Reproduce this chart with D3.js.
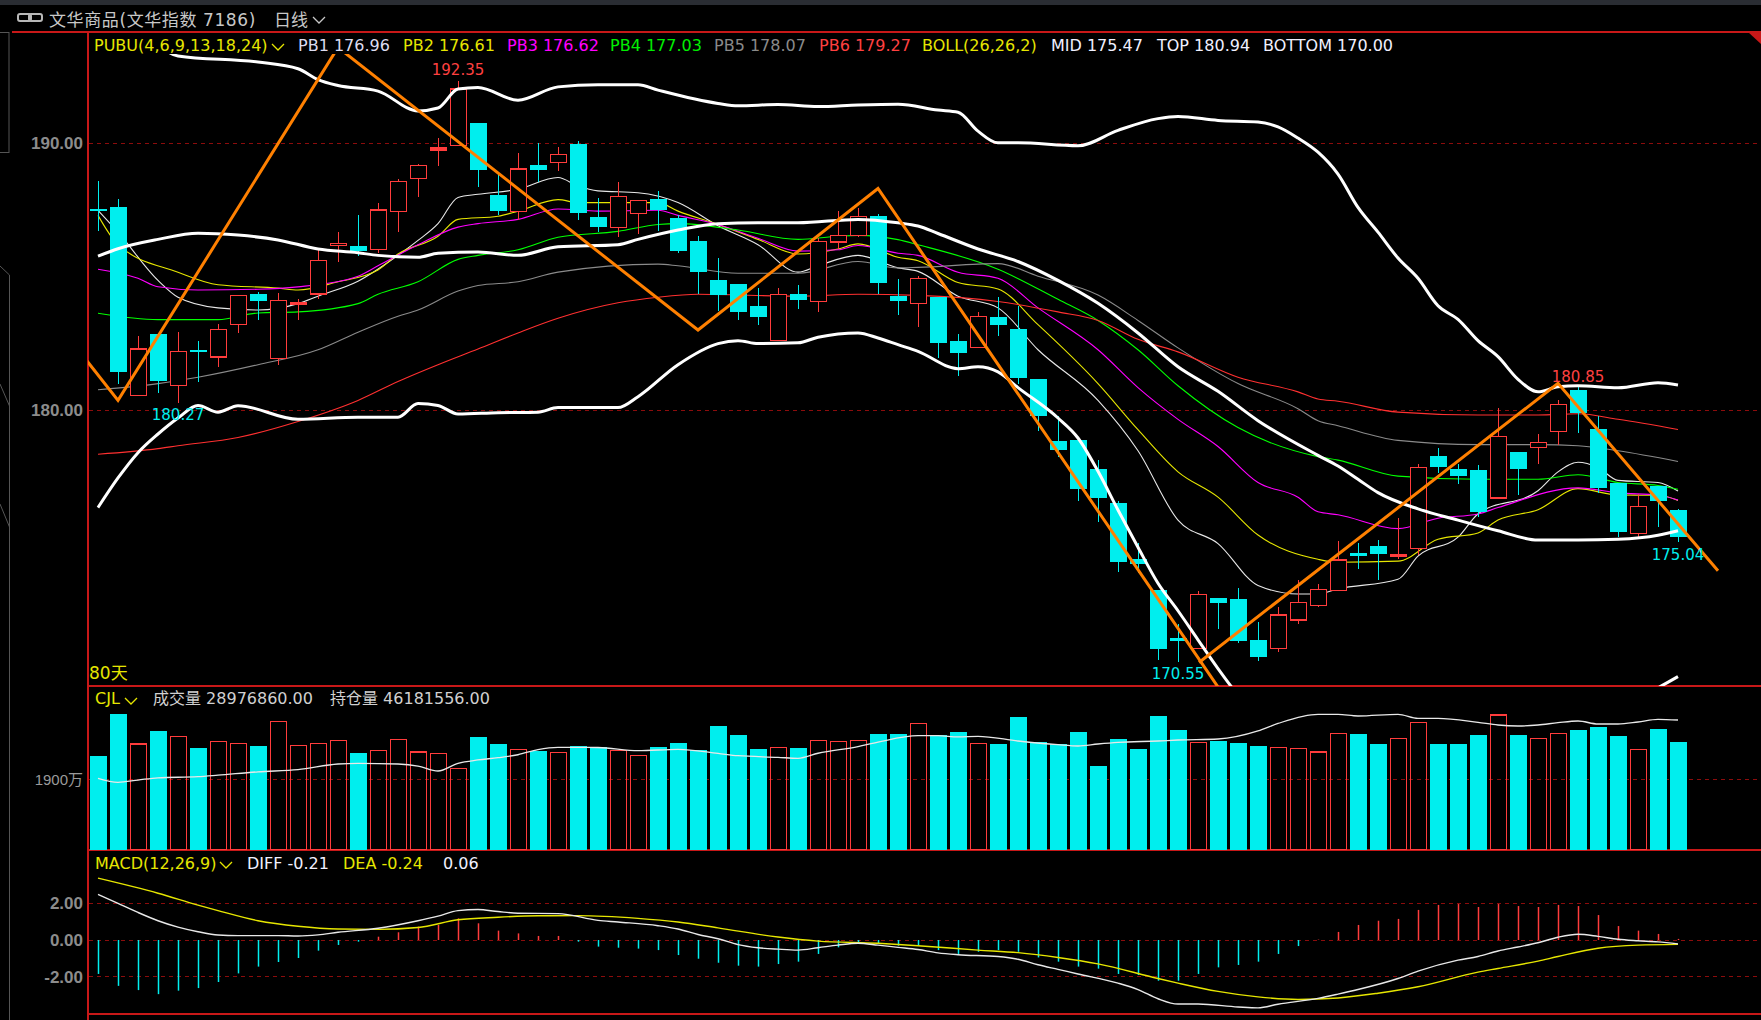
<!DOCTYPE html>
<html>
<head>
<meta charset="utf-8">
<title>文华商品 日线</title>
<style>
body { margin: 0; background: #000; }
svg { display: block; }
text { font-family: "DejaVu Sans", "Noto Sans CJK SC", sans-serif; }
.axis-text { font-family: "Liberation Sans", "Noto Sans CJK SC", sans-serif; }
</style>
</head>
<body>
<script src="https://cdn.jsdelivr.net/npm/d3@7/dist/d3.min.js"></script>
<script>
'use strict';

// daily candles, index 0..79 (80 days)
const open  = [187.55,187.60,180.55,182.86,180.93,182.26,181.99,183.20,184.34,181.94,
               184.00,184.35,186.17,186.17,186.01,187.46,188.69,189.77,189.91,190.75,
               188.05,187.46,189.18,189.29,189.96,187.24,186.86,187.38,187.90,187.19,
               186.34,184.87,184.73,183.90,182.60,184.34,184.07,186.30,186.55,187.27,
               184.27,183.99,184.24,182.57,182.35,183.47,183.04,181.15,178.85,178.88,
               177.77,176.51,174.40,173.26,171.46,171.05,172.94,172.91,171.37,171.05,
               172.12,172.66,173.23,174.62,174.90,174.54,174.81,178.26,177.77,177.74,
               176.70,178.42,178.60,179.18,180.74,179.29,177.27,175.37,177.14,176.26];
const high  = [188.60,187.90,182.76,182.86,182.93,182.57,183.23,184.30,184.43,184.37,
               184.15,186.01,186.67,187.30,187.75,188.65,189.23,190.22,192.35,190.75,
               188.88,189.64,190.02,189.86,190.08,187.97,188.54,187.86,188.22,187.30,
               186.52,185.70,184.73,184.59,184.59,184.69,186.45,187.46,187.59,187.37,
               184.91,185.02,184.24,182.85,183.68,184.23,183.90,181.15,179.76,178.88,
               178.12,176.60,175.03,173.26,171.96,173.20,172.94,173.32,172.03,172.60,
               173.61,173.48,175.08,175.03,175.12,175.94,177.99,178.59,177.96,177.93,
               180.07,178.42,179.10,180.36,180.85,179.76,177.27,176.86,177.14,176.29];
const low   = [186.70,180.99,180.55,180.65,180.27,181.06,181.62,182.90,183.39,181.70,
               183.39,184.15,185.57,185.76,185.88,186.67,188.00,189.17,189.91,188.36,
               187.30,187.11,188.57,188.95,187.11,186.67,186.48,186.59,186.70,185.88,
               184.34,183.71,183.39,183.17,182.60,183.77,183.68,186.04,186.48,184.34,
               183.55,183.12,181.94,181.28,182.35,182.79,180.99,179.22,178.22,176.57,
               175.79,173.92,173.89,170.62,170.55,171.05,171.79,171.27,170.58,170.93,
               171.96,172.60,173.23,174.02,173.64,174.40,174.56,177.65,177.24,175.97,
               176.70,176.83,177.96,178.70,179.13,176.89,175.23,175.23,175.60,175.04];
const close = [187.45,181.43,182.29,181.10,182.19,182.20,183.03,184.30,184.10,184.12,
               184.03,185.62,186.25,185.96,187.50,188.57,189.17,189.83,192.04,188.99,
               187.46,189.04,189.01,189.58,187.40,186.88,188.01,187.86,187.49,185.98,
               185.16,184.32,183.69,183.47,184.34,184.12,186.33,186.55,187.27,184.75,
               184.10,184.94,182.52,182.14,183.52,183.20,181.20,179.76,178.51,177.02,
               176.70,174.29,174.21,171.02,171.33,173.07,172.75,171.33,170.73,172.31,
               172.79,173.26,174.37,174.59,174.59,174.57,177.84,177.88,177.52,176.16,
               179.00,177.80,178.78,180.20,179.89,177.08,175.42,176.39,176.57,175.23];

// volume, unit 万
const volume = [2526,3655,2849,3198,3055,2741,2921,2867,2795,3458,
                2813,2867,2948,2607,2679,2975,2634,2598,2195,3037,
                2849,2706,2661,2625,2787,2760,2679,2544,2768,2875,
                2679,3332,3090,2714,2760,2741,2948,2921,2948,3117,
                3117,3404,3082,3171,2867,2849,3574,2903,2840,3171,
                2257,2983,2714,3601,3225,2893,2929,2875,2795,2760,
                2733,2634,3136,3117,2849,3002,3431,2849,2849,3090,
                3628,3090,3002,3136,3225,3306,3064,2706,3252,2897.686];
const openInterest = 46181556;

// volume average line, [day, value]
const volMa = [[0,1926],[1,1819],[2,1880],[3,1940],[5,1970],[6,2010],[8,2100],[10,2160],[12,2311],
  [13,2330],[15,2311],[16,2257],[17,2123],[18,2330],[19,2420],[20,2480],[21,2560],[22,2700],
  [23,2760],[25,2755],[27,2669],[29,2706],[31,2598],[32,2534],[34,2491],[35,2464],[36,2600],
  [38,2780],[39,2900],[41,3072],[42,3072],[43,3040],[44,3055],[46,2929],[48,2830],[49,2795],
  [50,2849],[51,2893],[53,2929],[54,2956],[56,2983],[58,3200],[59,3400],[61,3646],[62,3646],
  [63,3601],[65,3646],[66,3539],[67,3539],[69,3431],[70,3359],[71,3332],[72,3359],[73,3422],
  [74,3467],[75,3386],[76,3386],[77,3440],[78,3512],[79,3494]];

// PUBU(4,6,9,13,18,24) lines, [day, price]
const pb1 = [[0,187.49],[1,186.67],[3,184.86],[4,184.23],[6,183.83],[8,183.75],[10,183.99],[11,184.27],
  [13,184.83],[15,185.80],[16,186.36],[17,186.99],[18,187.97],[19,188.09],[21,188.28],[23,188.72],
  [24,188.40],[25,188.22],[27,188.15],[29,187.78],[31,186.91],[33,186.20],[35,185.17],[36,185.41],
  [38,185.80],[40,185.33],[41,185.20],[43,184.27],[45,183.83],[47,182.26],[50,180.36],[52,178.47],
  [54,175.87],[56,174.99],[58,173.42],[60,173.10],[61,173.10],[62,173.29],[65,173.65],[66,174.52],
  [68,175.23],[69,176.10],[72,176.97],[73,177.68],[74,178.04],[75,177.84],[76,177.36],[78,177.28],[79,176.96]];
const pb2 = [[0,187.30],[1,186.20],[4,185.17],[6,184.70],[9,184.57],[10,184.50],[12,184.81],[14,185.25],
  [15,185.85],[17,186.52],[18,187.15],[20,187.27],[21,187.46],[23,187.89],[24,187.78],[28,187.78],
  [29,187.46],[31,186.96],[33,186.40],[35,185.85],[37,186.04],[38,186.23],[40,185.73],[41,185.60],
  [43,184.78],[45,184.54],[47,183.20],[50,180.99],[52,179.26],[54,177.68],[56,176.73],[58,175.31],
  [61,174.40],[62,174.29],[65,174.33],[67,175.15],[69,175.39],[70,175.87],[72,176.26],[74,177.05],
  [76,176.81],[78,176.80],[79,176.61]];
const pb3 = [[0,185.28],[2,184.94],[3,184.62],[5,184.50],[8,184.53],[10,184.62],[13,185.02],[14,185.41],
  [16,186.20],[18,186.86],[19,186.99],[21,187.15],[23,187.54],[25,187.46],[28,187.49],[29,187.30],
  [31,186.96],[33,186.44],[35,185.96],[37,186.01],[38,186.17],[40,185.88],[41,185.80],[43,185.17],
  [45,184.94],[47,183.83],[50,182.26],[52,180.84],[54,179.65],[56,178.63],[58,177.28],[60,176.73],
  [61,176.18],[62,176.07],[65,175.55],[67,175.94],[69,176.10],[70,176.34],[74,177.08],[76,176.89],
  [78,176.81],[79,176.62]];
const pb4 = [[0,183.63],[3,183.39],[6,183.39],[8,183.64],[10,183.68],[13,183.99],[14,184.34],[16,184.81],
  [18,185.65],[19,185.80],[21,186.01],[23,186.48],[26,186.70],[28,186.96],[29,186.99],[32,186.75],
  [35,186.40],[37,186.52],[38,186.55],[40,186.39],[41,186.20],[45,185.28],[48,184.15],[50,183.36],
  [52,182.26],[54,180.91],[57,179.34],[61,178.25],[62,178.12],[65,177.52],[69,177.40],[72,177.40],
  [74,177.57],[76,177.28],[78,177.17],[79,177.03]];
const pb5 = [[0,180.76],[3,180.99],[5,181.23],[8,181.70],[11,182.26],[13,182.92],[15,183.52],[16,183.75],
  [18,184.46],[19,184.67],[21,184.81],[23,185.17],[28,185.47],[29,185.41],[32,185.13],[35,185.13],
  [38,185.57],[40,185.33],[41,185.35],[45,185.49],[47,185.02],[50,184.31],[52,183.36],[54,182.33],
  [57,180.99],[60,180.05],[61,179.60],[62,179.41],[65,178.86],[69,178.70],[72,178.70],[74,178.66],
  [76,178.47],[79,178.07]];
const pb6 = [[0,178.34],[3,178.55],[4,178.66],[7,178.97],[10,179.57],[13,180.36],[15,181.07],[17,181.70],
  [19,182.29],[21,182.89],[23,183.44],[26,184.02],[28,184.23],[30,184.34],[35,184.27],[38,184.34],
  [41,184.30],[45,184.07],[48,183.68],[50,183.36],[52,182.65],[54,182.18],[57,181.23],[60,180.68],
  [61,180.41],[62,180.33],[65,179.92],[69,179.81],[72,179.81],[74,179.86],[76,179.65],[79,179.27]];

// BOLL(26,26,2), [day, price]
const bollTop = [[0,195.60],[2,194.40],[4,193.28],[8,193.05],[10,192.80],[11,192.39],[12,192.17],[14,191.96],
  [16,191.22],[17,191.33],[18,192.04],[19,192.10],[21,191.62],[23,192.12],[25,192.20],[27,192.20],
  [28,192.00],[31,191.50],[32,191.41],[34,191.46],[36,191.38],[38,191.44],[40,191.47],[42,191.25],
  [43,191.17],[44,190.46],[45,190.02],[46,190.02],[49,189.91],[51,190.49],[53,190.93],[54,191.01],
  [56,190.86],[58,190.80],[59,190.62],[60,190.20],[61,189.67],[62,188.85],[63,187.60],[64,186.67],
  [65,185.70],[66,184.94],[67,183.91],[68,183.40],[69,182.60],[70,182.00],[71,181.15],[72,180.68],
  [73,180.87],[74,180.91],[76,180.83],[78,181.02],[79,180.94]];
const bollMid = [[0,185.77],[1,186.05],[3,186.40],[5,186.63],[7,186.56],[9,186.38],[11,186.04],[13,185.90],
  [14,185.80],[16,185.73],[17,185.88],[19,185.93],[21,185.80],[23,186.12],[26,186.20],[27,186.40],
  [29,186.75],[31,186.99],[33,187.02],[35,187.02],[38,187.15],[40,187.02],[41,186.90],[42,186.62],
  [44,186.04],[46,185.57],[48,184.86],[50,184.00],[52,182.89],[54,181.62],[56,180.70],[58,179.60],
  [61,178.30],[62,177.90],[63,177.40],[64,176.90],[66,176.29],[68,175.87],[70,175.47],[72,175.12],
  [74,175.12],[76,175.15],[78,175.30],[79,175.47]];
const bollBottom = [[0,176.34],[1,177.45],[2,178.40],[3,179.10],[4,179.70],[5,180.17],[6,179.92],[7,180.16],
  [10,179.65],[13,179.73],[15,179.73],[16,180.24],[17,180.17],[18,179.85],[20,179.90],[22,179.92],
  [23,180.09],[26,180.09],[27,180.50],[29,181.70],[31,182.49],[32,182.60],[33,182.49],[35,182.52],
  [36,182.73],[38,182.89],[39,182.70],[40,182.45],[41,182.20],[43,181.55],[44,181.62],[45,181.43],
  [46,180.84],[48,179.70],[49,178.95],[50,177.70],[51,176.25],[52,174.85],[53,173.50],[54,172.47],
  [55,171.38],[56,170.30],[57,169.30],[60,167.20],[65,167.30],[70,168.60],[75,168.80],[77,169.20],
  [78,169.58],[79,170.00]];

// zigzag turning points, [day, price]
const zigzagA = [[-1,182.27],[1,180.36],[12,193.60],[30,183.00],[39,188.31],[57.5,167.96]];
const zigzagB = [[55.05,170.53],[73,181.00],[81,173.97]];

// MACD(12,26,9)
const diff = [[0,2.49],[1,2.00],[2,1.50],[3,1.05],[4,0.70],[5,0.45],[6,0.27],[7,0.24],[9,0.24],[10,0.22],
  [11,0.28],[12,0.42],[14,0.64],[16,1.05],[17,1.30],[18,1.60],[19,1.66],[20,1.55],[21,1.46],[23,1.44],
  [25,1.07],[26,0.98],[28,0.78],[29,0.60],[30,0.30],[31,0.07],[32,-0.25],[33,-0.42],[34,-0.50],
  [35,-0.55],[36,-0.42],[37,-0.28],[38,-0.18],[39,-0.28],[40,-0.40],[41,-0.52],[42,-0.70],[43,-0.80],
  [45,-0.90],[46,-1.05],[47,-1.35],[48,-1.60],[49,-1.85],[51,-2.35],[52,-2.70],[53,-3.20],[54,-3.49],
  [55,-3.49],[57,-3.65],[58,-3.70],[59,-3.50],[61,-3.18],[62,-2.95],[63,-2.70],[65,-2.10],[66,-1.70],
  [68,-1.10],[69,-0.90],[70,-0.60],[71,-0.38],[72,-0.15],[73,0.15],[74,0.31],[75,0.20],[76,0.04],
  [77,-0.04],[78,-0.10],[79,-0.21]];
const dea = [[0,3.37],[3,2.55],[5,1.90],[6,1.60],[8,1.05],[10,0.75],[12,0.60],[14,0.58],[16,0.68],[18,1.10],
  [20,1.24],[22,1.32],[24,1.33],[27,1.18],[29,0.98],[31,0.66],[34,0.16],[36,-0.06],[39,-0.18],[41,-0.31],
  [44,-0.55],[46,-0.69],[48,-0.95],[50,-1.30],[53,-2.10],[54,-2.35],[56,-2.80],[58,-3.10],[60,-3.24],
  [62,-3.16],[64,-2.90],[66,-2.55],[69,-1.75],[70,-1.55],[72,-1.15],[73,-0.90],[75,-0.45],[77,-0.28],[79,-0.24]];
const macdBar = [-1.85,-2.50,-2.73,-2.95,-2.76,-2.62,-2.29,-1.82,-1.45,-1.20,
                 -0.98,-0.58,-0.27,-0.09,0.18,0.42,0.73,0.82,1.18,0.91,
                 0.51,0.36,0.22,0.22,-0.09,-0.36,-0.42,-0.47,-0.55,-0.82,
                 -1.02,-1.24,-1.40,-1.45,-1.31,-1.18,-0.76,-0.40,-0.13,-0.18,
                 -0.31,-0.31,-0.55,-0.76,-0.64,-0.55,-0.64,-0.95,-1.18,-1.45,
                 -1.56,-1.85,-1.91,-2.22,-2.22,-1.85,-1.49,-1.36,-1.18,-0.76,
                 -0.33,0.02,0.44,0.82,1.05,1.15,1.64,1.91,1.96,1.80,
                 1.96,1.85,1.80,1.91,1.85,1.36,0.76,0.51,0.33,0.06];

// marked extremes
const markHigh = [18, 74];
const markLow = [4, 54, 79];

const W = 1761, H = 1020;
const UP = '#ff3c3c', DOWN = '#00eeee', FRAME = '#c81818', GRID = '#8c0c0c';
const YELLOW = '#e6e600';
const last = a => a[a.length - 1][1];
const f2 = v => v.toFixed(2);   // plain hyphen for negatives, like the terminal

// scales
const x = d3.scaleLinear().domain([-0.5, 79.5]).range([88, 1688]);
const yP = d3.scaleLinear().domain([180, 190]).range([410, 143.4]);
const yV = d3.scaleLinear().domain([0, 1900]).range([850, 779.3]);
const yM = d3.scaleLinear().domain([0, 2]).range([940, 903.3]);

const svg = d3.select('body').append('svg')
	.attr('width', W)
	.attr('height', H)
	.style('background', '#000');

// top strip and title
svg.append('rect').attr('x', 0).attr('y', 0).attr('width', W).attr('height', 5).attr('fill', '#2a2d33');
svg.append('rect').attr('x', 18).attr('y', 14).attr('width', 13).attr('height', 7).attr('rx', 2)
	.attr('fill', 'none').attr('stroke', '#b8b8b8').attr('stroke-width', 2);
svg.append('rect').attr('x', 29).attr('y', 14).attr('width', 13).attr('height', 7).attr('rx', 2)
	.attr('fill', 'none').attr('stroke', '#b8b8b8').attr('stroke-width', 2);
svg.append('text').attr('x', 49).attr('y', 26)
	.attr('font-size', 17).attr('letter-spacing', 0.6).attr('fill', '#c8c8c8').text('文华商品(文华指数  7186)');
svg.append('text').attr('x', 274).attr('y', 26)
	.attr('font-size', 17).attr('fill', '#c8c8c8').text('日线');
svg.append('path').attr('d', 'M313,17L319,23L325,17').attr('fill', 'none')
	.attr('stroke', '#c8c8c8').attr('stroke-width', 1.3);

// left side decoration
const deco = svg.append('g').attr('stroke', '#555').attr('fill', 'none');
deco.append('rect').attr('x', -1).attr('y', 32.5).attr('width', 10).attr('height', 120);
deco.append('path').attr('d', 'M0,266L9.5,275L9.5,1020M0,384L9.5,406M0,504L9.5,527');

// frame
const frame = svg.append('g').attr('stroke', FRAME).attr('stroke-width', 1.5).attr('shape-rendering', 'crispEdges');
frame.append('line').attr('x1', 12).attr('x2', W).attr('y1', 32).attr('y2', 32);
[686, 850, 1014].forEach(function(v) {
	frame.append('line').attr('x1', 88).attr('x2', W).attr('y1', v).attr('y2', v);
});
frame.append('line').attr('x1', 88).attr('x2', 88).attr('y1', 32).attr('y2', H);
svg.append('path').attr('d', 'M1748,32L1761,32L1761,44Z').attr('fill', FRAME);

// grid lines
function grid(values, scale) {
	svg.append('g').selectAll('line').data(values).enter().append('line')
		.attr('x1', 89).attr('x2', W)
		.attr('y1', d => scale(d)).attr('y2', d => scale(d))
		.attr('stroke', GRID).attr('stroke-dasharray', '4,4').attr('shape-rendering', 'crispEdges');
}
grid([180, 190], yP);
grid([1900], yV);
grid([-2, 0, 2], yM);

// y axes
function axis(scale, values, fmt, size, weight, color) {
	const g = svg.append('g').attr('transform', 'translate(83,0)')
		.call(d3.axisLeft(scale).tickValues(values).tickFormat(fmt).tickSize(0).tickPadding(0));
	g.select('.domain').remove();
	g.selectAll('text')
		.attr('class', 'axis-text')
		.attr('font-size', size)
		.attr('font-weight', weight)
		.attr('fill', color);
}
axis(yP, [180, 190], f2, 17, 'bold', '#8c8c8c');
axis(yV, [1900], d => d + '万', 15, 'normal', '#9a9a9a');
axis(yM, [-2, 0, 2], f2, 17, 'bold', '#8c8c8c');

// ---------- main panel ----------
svg.append('clipPath').attr('id', 'clipMain').append('rect')
	.attr('x', 88).attr('y', 54).attr('width', W - 88).attr('height', 686 - 54);
const main = svg.append('g').attr('clip-path', 'url(#clipMain)');

const line = d3.line().x(d => x(d[0])).y(d => yP(d[1])).curve(d3.curveMonotoneX);
const pbSeries = [
	{ data: pb1, color: '#e8e8e8' },
	{ data: pb2, color: '#e6e600' },
	{ data: pb3, color: '#ff00ff' },
	{ data: pb4, color: '#00ff00' },
	{ data: pb5, color: '#8a8a8a' },
	{ data: pb6, color: '#ff3030' }
];
main.selectAll('.pb').data(pbSeries).enter().append('path')
	.attr('class', 'pb')
	.attr('d', d => line(d.data))
	.attr('fill', 'none').attr('stroke', d => d.color).attr('stroke-width', 1.1);

const days = d3.range(open.length);
const isUp = i => close[i] >= open[i];

// candles
const candle = main.selectAll('.candle').data(days).enter().append('g').attr('class', 'candle')
	.attr('shape-rendering', 'crispEdges');
candle.each(function(i) {
	const g = d3.select(this);
	const cx = Math.round(x(i)) + 0.5;
	const top = yP(Math.max(open[i], close[i]));
	const bot = yP(Math.min(open[i], close[i]));
	if (isUp(i)) {
		g.append('line').attr('x1', cx).attr('x2', cx).attr('y1', yP(high[i])).attr('y2', top).attr('stroke', UP);
		g.append('line').attr('x1', cx).attr('x2', cx).attr('y1', bot).attr('y2', yP(low[i])).attr('stroke', UP);
		const h = Math.max(bot - top, 2);
		g.append('rect').attr('x', cx - 8).attr('width', 16).attr('y', top).attr('height', h)
			.attr('fill', h <= 2 ? UP : '#000').attr('stroke', UP).attr('stroke-width', 1.2);
	} else {
		g.append('line').attr('x1', cx).attr('x2', cx).attr('y1', yP(high[i])).attr('y2', yP(low[i])).attr('stroke', DOWN);
		g.append('rect').attr('x', cx - 8.5).attr('width', 17).attr('y', top).attr('height', Math.max(bot - top, 2.5))
			.attr('fill', DOWN);
	}
});

// bollinger bands
main.selectAll('.boll').data([bollTop, bollMid, bollBottom]).enter().append('path')
	.attr('class', 'boll')
	.attr('d', d => line(d))
	.attr('fill', 'none').attr('stroke', '#fff').attr('stroke-width', 3);

// zigzag
const zline = d3.line().x(d => x(d[0])).y(d => yP(d[1]));
main.selectAll('.zz').data([zigzagA, zigzagB]).enter().append('path')
	.attr('class', 'zz')
	.attr('d', d => zline(d))
	.attr('fill', 'none').attr('stroke', '#ff8000').attr('stroke-width', 3).attr('stroke-linejoin', 'miter');

// marked extremes
main.selectAll('.mh').data(markHigh).enter().append('text')
	.attr('x', i => x(i)).attr('y', i => yP(high[i]) - 5.5)
	.attr('text-anchor', 'middle').attr('font-size', 15).attr('fill', '#ff4040')
	.text(i => f2(high[i]));
main.selectAll('.ml').data(markLow).enter().append('text')
	.attr('x', i => x(i)).attr('y', i => yP(low[i]) + 17.5)
	.attr('text-anchor', 'middle').attr('font-size', 15).attr('fill', DOWN)
	.text(i => f2(low[i]));

svg.append('text').attr('x', 89).attr('y', 679)
	.attr('font-size', 17).attr('fill', YELLOW).text(open.length + '天');

// header of main panel
const header = [
	{ x: 94, t: 'PUBU(4,6,9,13,18,24)', c: YELLOW },
	{ x: 298, t: 'PB1 ' + f2(last(pb1)), c: '#dcdcf0' },
	{ x: 403, t: 'PB2 ' + f2(last(pb2)), c: YELLOW },
	{ x: 507, t: 'PB3 ' + f2(last(pb3)), c: '#ff00ff' },
	{ x: 610, t: 'PB4 ' + f2(last(pb4)), c: '#00ee00' },
	{ x: 714, t: 'PB5 ' + f2(last(pb5)), c: '#8a8a8a' },
	{ x: 819, t: 'PB6 ' + f2(last(pb6)), c: '#ff4040' },
	{ x: 922, t: 'BOLL(26,26,2)', c: YELLOW },
	{ x: 1051, t: 'MID ' + f2(last(bollMid)), c: '#f0f0ff' },
	{ x: 1157, t: 'TOP ' + f2(last(bollTop)), c: '#f0f0ff' },
	{ x: 1263, t: 'BOTTOM ' + f2(last(bollBottom)), c: '#f0f0ff' }
];
svg.append('g').selectAll('text').data(header).enter().append('text')
	.attr('x', d => d.x).attr('y', 50.5).attr('font-size', 16).attr('fill', d => d.c).text(d => d.t);
function chevron(x0, y0, color) {
	svg.append('path').attr('d', 'M' + x0 + ',' + y0 + 'l6,6l6,-6')
		.attr('fill', 'none').attr('stroke', color).attr('stroke-width', 1.3);
}
chevron(272, 44, YELLOW);

// ---------- volume panel ----------
svg.append('clipPath').attr('id', 'clipVol').append('rect')
	.attr('x', 88).attr('y', 687).attr('width', W - 88).attr('height', 850 - 687);
const vol = svg.append('g').attr('clip-path', 'url(#clipVol)').attr('shape-rendering', 'crispEdges');
vol.selectAll('rect').data(days).enter().append('rect')
	.attr('x', i => isUp(i) ? Math.round(x(i)) - 7.5 : Math.round(x(i)) - 8)
	.attr('width', i => isUp(i) ? 16 : 17)
	.attr('y', i => yV(volume[i]))
	.attr('height', i => 850 - yV(volume[i]))
	.attr('fill', i => isUp(i) ? 'none' : DOWN)
	.attr('stroke', i => isUp(i) ? UP : 'none')
	.attr('stroke-width', 1.2);
svg.append('path')
	.attr('d', d3.line().x(d => x(d[0])).y(d => yV(d[1])).curve(d3.curveMonotoneX)(volMa))
	.attr('fill', 'none').attr('stroke', '#e8e8e8').attr('stroke-width', 1.3);

svg.append('text').attr('x', 95).attr('y', 704).attr('font-size', 16).attr('fill', YELLOW).text('CJL');
chevron(125, 698, YELLOW);
svg.append('text').attr('x', 153).attr('y', 704).attr('font-size', 16).attr('fill', '#d0d0d0')
	.text('成交量 ' + (volume[volume.length - 1] * 10000).toFixed(2));
svg.append('text').attr('x', 330).attr('y', 704).attr('font-size', 16).attr('fill', '#d0d0d0')
	.text('持仓量 ' + openInterest.toFixed(2));

// ---------- MACD panel ----------
const macd = svg.append('g');
macd.selectAll('line').data(days).enter().append('line')
	.attr('x1', i => Math.round(x(i)) + 0.5).attr('x2', i => Math.round(x(i)) + 0.5)
	.attr('y1', yM(0)).attr('y2', i => yM(macdBar[i]))
	.attr('stroke', i => macdBar[i] >= 0 ? UP : DOWN).attr('stroke-width', 1.5);
const mline = d3.line().x(d => x(d[0])).y(d => yM(d[1])).curve(d3.curveMonotoneX);
macd.append('path').attr('d', mline(dea)).attr('fill', 'none').attr('stroke', YELLOW).attr('stroke-width', 1.4);
macd.append('path').attr('d', mline(diff)).attr('fill', 'none').attr('stroke', '#e8e8e8').attr('stroke-width', 1.4);

svg.append('text').attr('x', 95).attr('y', 868.5).attr('font-size', 16).attr('fill', YELLOW).text('MACD(12,26,9)');
chevron(220, 862, YELLOW);
svg.append('text').attr('x', 247).attr('y', 868.5).attr('font-size', 16).attr('fill', '#f0f0ff')
	.text('DIFF ' + f2(last(diff)));
svg.append('text').attr('x', 343).attr('y', 868.5).attr('font-size', 16).attr('fill', YELLOW)
	.text('DEA ' + f2(last(dea)));
svg.append('text').attr('x', 443).attr('y', 868.5).attr('font-size', 16).attr('fill', '#f0f0ff')
	.text(f2(macdBar[macdBar.length - 1]));
</script>
</body>
</html>
